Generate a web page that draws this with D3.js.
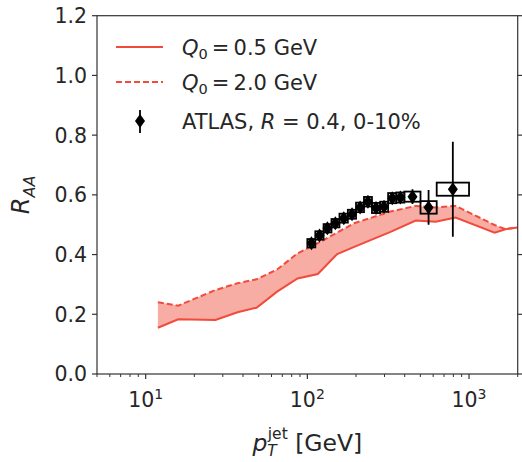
<!DOCTYPE html>
<html><head><meta charset="utf-8">
<script src="https://cdn.jsdelivr.net/npm/d3@7"></script>
<style>
body{margin:0;background:#fff;}
text{font-family:"DejaVu Sans",sans-serif;fill:#262626;}
</style></head>
<body><svg id="c" width="522" height="462"></svg>
<script>
// Model curves
const ptModel = [11.9, 15.9, 27, 37, 48.5, 65, 87, 116, 153, 195, 327, 468, 621, 826, 1440, 1680, 2000];
const raaQ05 = [0.155, 0.183, 0.181, 0.207, 0.222, 0.276, 0.320, 0.335, 0.402, 0.426, 0.476, 0.514, 0.510, 0.524, 0.473, 0.485, 0.491];
const raaQ20 = [0.240, 0.229, 0.281, 0.304, 0.317, 0.350, 0.404, 0.438, 0.474, 0.505, 0.544, 0.563, 0.558, 0.563, 0.499, 0.485, 0.491];
// ATLAS data
const ptAtlas = [106, 119, 133, 149, 168, 189, 212, 237, 266, 298, 335, 376, 447, 562, 794];
const ptLo = [100, 112, 126, 141, 158, 178, 200, 224, 251, 282, 316, 355, 398, 501, 631];
const ptHi = [112, 126, 141, 158, 178, 200, 224, 251, 282, 316, 355, 398, 501, 631, 1000];
const raaAtlas = [0.438, 0.464, 0.488, 0.505, 0.522, 0.535, 0.558, 0.577, 0.556, 0.560, 0.589, 0.591, 0.594, 0.558, 0.619];
const statErr = [0.005, 0.005, 0.005, 0.005, 0.006, 0.006, 0.007, 0.008, 0.009, 0.010, 0.012, 0.015, 0.025, 0.058, 0.159];
const sysErr = [0.014, 0.014, 0.014, 0.014, 0.015, 0.015, 0.016, 0.016, 0.017, 0.017, 0.017, 0.017, 0.017, 0.021, 0.022];
const yTicks = [0.0, 0.2, 0.4, 0.6, 0.8, 1.0, 1.2];
const xMajor = [10, 100, 1000];

const L = 97, T = 15.7, R = 517.7, B = 374;
const svg = d3.select("#c");
const x = d3.scaleLog().domain([5, 2000]).range([L, R]);
const y = d3.scaleLinear().domain([0, 1.2]).range([B, T]);
const red = "#f24b3c", fill = "#f7aca4", ink = "#333";

svg.append("clipPath").attr("id","cp").append("rect")
  .attr("x",L).attr("y",T).attr("width",R-L).attr("height",B-T);
const g = svg.append("g").attr("clip-path","url(#cp)");

const idx = d3.range(ptModel.length);
g.append("path").datum(idx)
  .attr("d", d3.area().x(i=>x(ptModel[i])).y0(i=>y(raaQ05[i])).y1(i=>y(raaQ20[i])))
  .attr("fill", fill).attr("stroke","none");
g.append("path").datum(idx)
  .attr("d", d3.line().x(i=>x(ptModel[i])).y(i=>y(raaQ05[i])))
  .attr("fill","none").attr("stroke",red).attr("stroke-width",2);
g.append("path").datum(idx)
  .attr("d", d3.line().x(i=>x(ptModel[i])).y(i=>y(raaQ20[i])))
  .attr("fill","none").attr("stroke",red).attr("stroke-width",2).attr("stroke-dasharray","6,3");

// ATLAS boxes
const ai = d3.range(ptAtlas.length);
g.selectAll(".box").data(ai).join("rect")
  .attr("x", i=>x(ptLo[i])).attr("width", i=>x(ptHi[i])-x(ptLo[i]))
  .attr("y", i=>y(raaAtlas[i]+sysErr[i])).attr("height", i=>y(raaAtlas[i]-sysErr[i])-y(raaAtlas[i]+sysErr[i]))
  .attr("fill","none").attr("stroke","#000").attr("stroke-width",1.8);
g.selectAll(".eb").data(ai).join("line")
  .attr("x1", i=>x(ptAtlas[i])).attr("x2", i=>x(ptAtlas[i]))
  .attr("y1", i=>y(raaAtlas[i]+statErr[i])).attr("y2", i=>y(raaAtlas[i]-statErr[i]))
  .attr("stroke","#000").attr("stroke-width",1.8);
const diamond = "M0,-7L5,0L0,7L-5,0Z";
g.selectAll(".pt").data(ai).join("path")
  .attr("d", diamond)
  .attr("transform", i=>`translate(${x(ptAtlas[i])},${y(raaAtlas[i])})`)
  .attr("fill","#000");

// Axes
const tickLen = 5, minorLen = 3;
const ax = svg.append("g");
yTicks.forEach(v=>{
  ax.append("line").attr("x1",L-tickLen).attr("x2",L).attr("y1",y(v)).attr("y2",y(v)).attr("stroke",ink).attr("stroke-width",1.2);
  ax.append("line").attr("x1",R).attr("x2",R+tickLen).attr("y1",y(v)).attr("y2",y(v)).attr("stroke",ink).attr("stroke-width",1.2);
  ax.append("text").attr("x",L-10).attr("y",y(v)).attr("dy","0.36em").attr("text-anchor","end")
    .attr("font-size",20.5).text(v.toFixed(1));
});
const minors = [];
[1,10,100,1000].forEach(d=>{for(let k=2;k<=9;k++){const v=d*k; if(v>=5 && v<=2000) minors.push(v);}});
minors.forEach(v=>{
  ax.append("line").attr("x1",x(v)).attr("x2",x(v)).attr("y1",B).attr("y2",B+minorLen).attr("stroke",ink).attr("stroke-width",1);
});
xMajor.forEach((v,i)=>{
  ax.append("line").attr("x1",x(v)).attr("x2",x(v)).attr("y1",B).attr("y2",B+tickLen).attr("stroke",ink).attr("stroke-width",1.2);
  const t = ax.append("text").attr("x",x(v)).attr("y",B+33).attr("text-anchor","middle").attr("font-size",20.5);
  t.append("tspan").text("10");
  t.append("tspan").attr("dy",-8).attr("font-size",14).text(String(i+1));
});
svg.append("rect").attr("x",L).attr("y",T).attr("width",R-L).attr("height",B-T)
  .attr("fill","none").attr("stroke",ink).attr("stroke-width",1.2);

// axis labels
const xl = svg.append("text").attr("x",(L+R)/2).attr("y",451).attr("text-anchor","middle").attr("font-size",23.5);
xl.append("tspan").attr("font-style","italic").text("p");
xl.append("tspan").attr("dy",5).attr("font-size",15.5).attr("font-style","italic").text("T");
xl.append("tspan").attr("dy",-17).attr("dx",-9).attr("font-size",15.5).text("jet");
xl.append("tspan").attr("dy",12).text(" [GeV]");

const yl = svg.append("text").attr("transform",`translate(29,${(T+B)/2}) rotate(-90)`).attr("text-anchor","middle").attr("font-size",24);
yl.append("tspan").attr("font-style","italic").text("R");
yl.append("tspan").attr("dy",6).attr("font-size",16).attr("font-style","italic").text("AA");

// legend
const lg = svg.append("g");
function qLabel(yy, val){
  const t = lg.append("text").attr("x",182).attr("y",yy).attr("dy","0.36em").attr("font-size",21);
  t.append("tspan").attr("font-style","italic").text("Q");
  t.append("tspan").attr("dy",4).attr("font-size",14.5).text("0");
  t.append("tspan").attr("dy",-4).attr("dx",4).text("=\u2009" + val + " GeV");
}
lg.append("line").attr("x1",116).attr("x2",163).attr("y1",47).attr("y2",47).attr("stroke",red).attr("stroke-width",2);
qLabel(47, "0.5");
lg.append("line").attr("x1",116).attr("x2",163).attr("y1",82).attr("y2",82).attr("stroke",red).attr("stroke-width",2).attr("stroke-dasharray","6,3");
qLabel(82, "2.0");
lg.append("line").attr("x1",140).attr("x2",140).attr("y1",110).attr("y2",133).attr("stroke","#000").attr("stroke-width",1.8);
lg.append("path").attr("d",diamond).attr("transform","translate(140,121)").attr("fill","#000");
const t3 = lg.append("text").attr("x",182).attr("y",121).attr("dy","0.36em").attr("font-size",21);
t3.append("tspan").text("ATLAS, ");
t3.append("tspan").attr("font-style","italic").text("R");
t3.append("tspan").text(" = 0.4, 0-10%");
</script></body></html>
